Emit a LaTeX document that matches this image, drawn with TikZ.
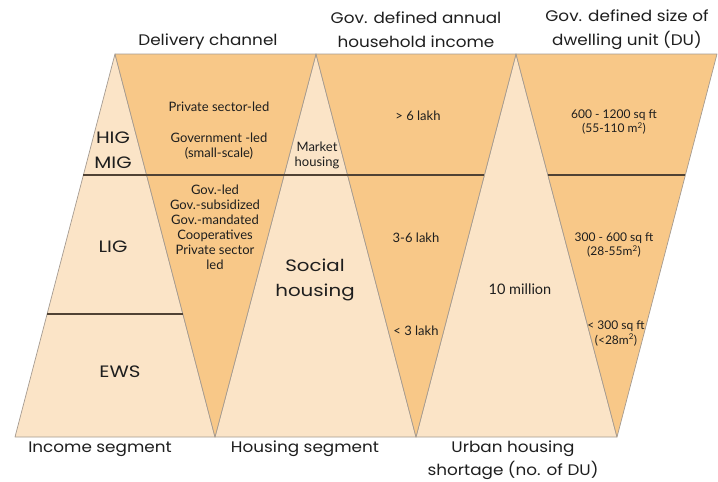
\documentclass[tikz,border=0pt]{standalone}
\usepackage{fontspec}
\setmainfont{Poppins}
\newfontfamily\headfont[FakeStretch=1.1]{Poppins}
\newfontfamily\bigfont[FakeStretch=1.2]{Poppins}
\newfontfamily\condfont{Lato}
\definecolor{darkfill}{RGB}{248,200,136}
\definecolor{lightfill}{RGB}{251,228,199}
\definecolor{edgecol}{RGB}{165,155,145}
\definecolor{rulecol}{RGB}{80,66,52}
\definecolor{txt}{RGB}{30,30,30}
\tikzset{
  darktri/.style={fill=darkfill, draw=edgecol, line width=0.7pt, line join=round},
  lighttri/.style={fill=lightfill, draw=edgecol, line width=0.7pt, line join=round},
  segrule/.style={draw=rulecol, line width=1.5pt},
  header/.style={font=\headfont\fontsize{15.3}{24}\selectfont, text=txt, align=center, inner sep=0pt},
  biglab/.style={font=\bigfont\fontsize{16.5}{25}\selectfont, text=txt, align=center, inner sep=0pt},
  condlab/.style={font=\condfont\fontsize{13}{15}\selectfont, text=txt, align=center, inner sep=0pt},
  smalllab/.style={font=\condfont\fontsize{12}{14.5}\selectfont, text=txt, align=center, inner sep=0pt}
}
\begin{document}
\begin{tikzpicture}[x=1pt,y=-1pt]
\path[use as bounding box, fill=white] (0,0) rectangle (718,482);
% light (upright) triangles
\path[lighttri] (15,437) -- (115,54) -- (215,437) -- cycle;
\path[lighttri] (215,437) -- (316,54) -- (416,437) -- cycle;
\path[lighttri] (416,437) -- (516,54) -- (617,437) -- cycle;
% dark (inverted) triangles
\path[darktri] (115,54) -- (316,54) -- (215,437) -- cycle;
\path[darktri] (316,54) -- (516,54) -- (416,437) -- cycle;
\path[darktri] (516,54) -- (717,54) -- (617,437) -- cycle;
% segment rules
\draw[segrule] (83.4,175) -- (484.4,175);
\draw[segrule] (547.6,175) -- (685.4,175);
\draw[segrule] (47,314) -- (183,314);
% headers
\node[header] (hdel) at (208,42) {Delivery channel};
\node[header] (hinc) at (416,29.5) {Gov. defined annual\\household income};
\node[header] (hdu) at (627,29.5) {Gov. defined size of\\dwelling unit (DU)};
% left triangle labels
\node[biglab] (hig) at (113,150) {HIG\\MIG};
\node[biglab] (lig) at (113,247) {LIG};
\node[biglab] (ews) at (120,372) {EWS};
% delivery channel
\node[condlab] (priv) at (219,107) {Private sector-led};
\node[condlab] (govled) at (219,146) {Government -led\\(small-scale)};
\node[condlab] (govlist) at (215,227.5) {Gov.-led\\Gov.-subsidized\\Gov.-mandated\\Cooperatives\\Private sector\\led};
% housing segment
\node[smalllab, font=\condfont\fontsize{13}{15}\selectfont] (market) at (317,155.5) {Market\\housing};
\node[biglab] (social) at (315,279.5) {Social\\housing};
% income
\node[condlab] (i6) at (418,116) {> 6 lakh};
\node[condlab] (i36) at (416,238) {3-6 lakh};
\node[condlab] (i3) at (416,331) {< 3 lakh};
% shortage
\node[condlab, font=\condfont\fontsize{14.5}{16}\selectfont] (mil) at (520,289) {10 million};
% DU sizes
\node[smalllab] (du1) at (614,122) {600 - 1200 sq ft\\(55-110 m\textsuperscript{2})};
\node[smalllab] (du2) at (614,245) {300 - 600 sq ft\\(28-55m\textsuperscript{2})};
\node[smalllab] (du3) at (616,333.5) {< 300 sq ft\\(<28m\textsuperscript{2})};
% footers
\node[header] (fin) at (100,449) {Income segment};
\node[header] (fhs) at (305,449) {Housing segment};
\node[header, font=\headfont\fontsize{15.3}{23}\selectfont] (fsh) at (513,460.5) {Urban housing\\shortage (no. of DU)};
\end{tikzpicture}
\end{document}
